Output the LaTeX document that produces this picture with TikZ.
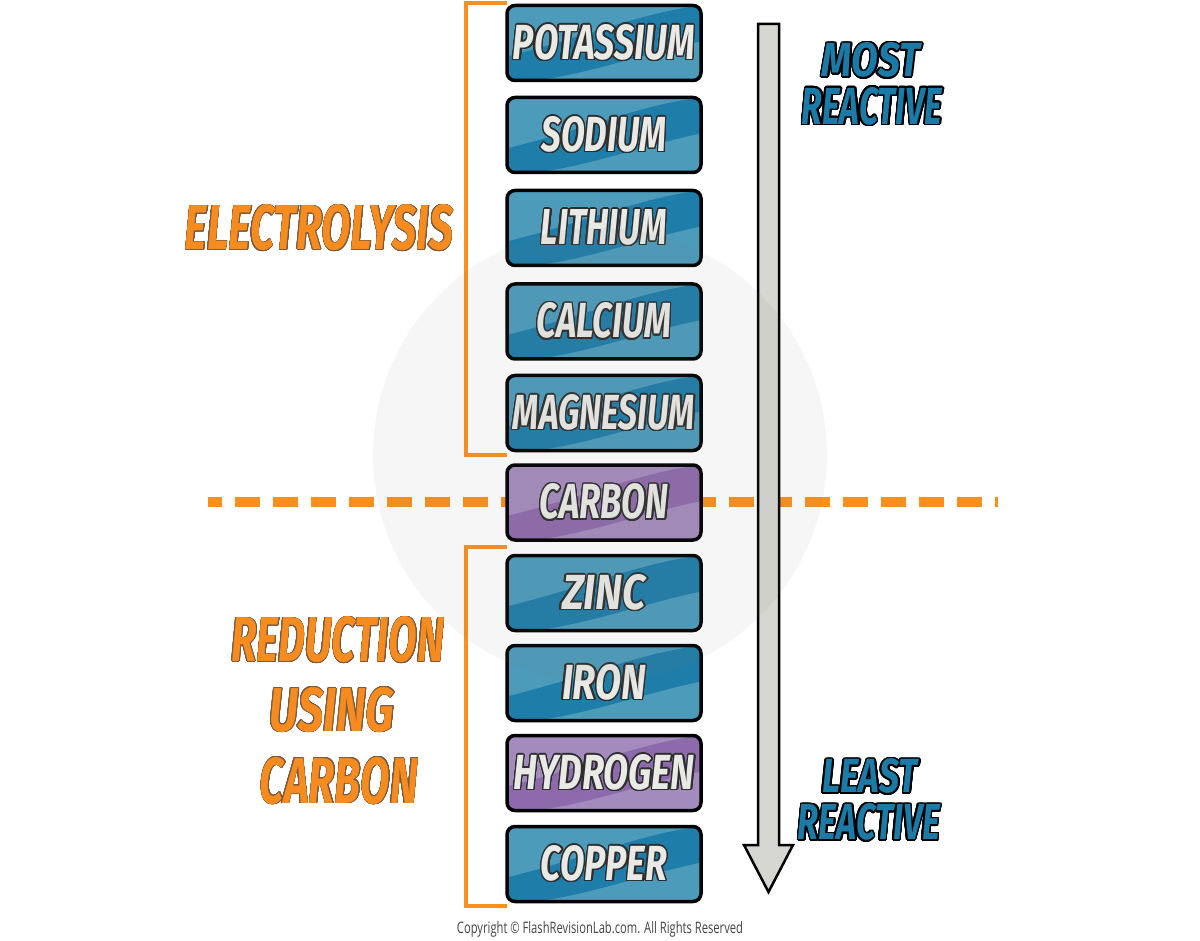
\documentclass[tikz,border=0pt]{standalone}
\usepackage{fontspec}
\setmainfont{Fira Sans}
\newfontfamily\copyfont{Open Sans}
\usepackage{graphicx}
\usepackage{contour}
\contournumber{24}
\definecolor{boxblue}{HTML}{4C9BBB}
\definecolor{bandblue}{HTML}{1F7DA9}
\definecolor{boxpurple}{HTML}{A48BBD}
\definecolor{bandpurple}{HTML}{8D6AAB}
\definecolor{txtwhite}{HTML}{E9E9E6}
\definecolor{txtdark}{HTML}{2E2E2E}
\definecolor{orangec}{HTML}{F68B1F}
\definecolor{orangeline}{HTML}{F7901E}
\definecolor{orangeedge}{HTML}{7A5A40}
\definecolor{bluetxt}{HTML}{1C7AA6}
\definecolor{arrowgray}{HTML}{D6D7D2}
\definecolor{copygray}{HTML}{444444}
\newcommand\boxlbl[2]{\textcolor{txtwhite}{\contourlength{1.4pt}\contour{txtdark}{\resizebox{#1pt}{35pt}{\bfseries\itshape #2}}}}
\newcommand\bluelbl[3]{\textcolor{bluetxt}{\contourlength{1.6pt}\contour{black}{\resizebox{#1pt}{#2pt}{\bfseries\itshape #3}}}}
\newcommand\orangelbl[3]{\textcolor{orangec}{\contourlength{0.6pt}\contour{orangeedge}{\resizebox{#1pt}{#2pt}{\bfseries\itshape #3}}}}
\tikzset{
  elembox/.style 2 args={draw=black, line width=3.5pt, rounded corners=8pt, fill=#1,
    minimum width=194pt, minimum height=75pt, inner sep=0pt,
    path picture={\fill[#2, rounded corners=0pt]
      ([shift={(0pt,24pt)}]path picture bounding box.south west)
      .. controls ([shift={(80pt,44pt)}]path picture bounding box.south west)
      and ([shift={(135pt,68pt)}]path picture bounding box.south west)
      .. (path picture bounding box.north east)
      -- ([shift={(0pt,-36pt)}]path picture bounding box.north east)
      .. controls ([shift={(140pt,28pt)}]path picture bounding box.south west)
      and ([shift={(80pt,6pt)}]path picture bounding box.south west)
      .. ([shift={(28pt,0pt)}]path picture bounding box.south west)
      -- (path picture bounding box.south west) -- cycle;}},
  blueelem/.style={elembox={boxblue}{bandblue}},
  purpleelem/.style={elembox={boxpurple}{bandpurple}},
  bracket/.style={draw=orangeline, line width=4pt},
  plain/.style={inner sep=0pt, outer sep=0pt},
}
\begin{document}
\begin{tikzpicture}[x=1pt, y=-1pt]
\useasboundingbox (0,0) rectangle (1200,941);
\fill[white] (0,0) rectangle (1200,941);

% dashed divider
\draw[orangeline, line width=10pt, dash pattern=on 25pt off 13pt, dash phase=11pt] (208,502) -- (998,502);

% brackets
\draw[bracket] (507,3) -- (466,3) -- (466,455) -- (507,455);
\draw[bracket] (507,547) -- (466,547) -- (466,906) -- (507,906);

% element boxes
\node[blueelem] (potassium) at (604,43) {\boxlbl{182}{POTASSIUM}};
\node[blueelem] (sodium) at (604,135) {\boxlbl{125}{SODIUM}};
\node[blueelem] (lithium) at (604,228) {\boxlbl{126}{LITHIUM}};
\node[blueelem] (calcium) at (604,321.5) {\boxlbl{135}{CALCIUM}};
\node[blueelem] (magnesium) at (604,413) {\boxlbl{182}{MAGNESIUM}};
\node[purpleelem] (carbon) at (604,502.5) {\boxlbl{129}{CARBON}};
\node[blueelem] (zinc) at (604,593) {\boxlbl{84}{ZINC}};
\node[blueelem] (iron) at (604,683) {\boxlbl{84}{IRON}};
\node[purpleelem] (hydrogen) at (604,773) {\boxlbl{181}{HYDROGEN}};
\node[blueelem] (copper) at (604,864) {\boxlbl{126}{COPPER}};

% reactivity arrow
\draw[fill=arrowgray, draw=black, line width=2.5pt, line join=miter]
  (758,24) -- (779,24) -- (779,845) -- (793,845) -- (768.5,892) -- (744,845) -- (758,845) -- cycle;

% side labels
\node[plain] (most) at (871,61) {\bluelbl{98}{34}{MOST}};
\node[plain] (mostreactive) at (872,107) {\bluelbl{140}{37}{REACTIVE}};
\node[plain] (least) at (870,777) {\bluelbl{95}{34}{LEAST}};
\node[plain] (leastreactive) at (869,823) {\bluelbl{142}{36}{REACTIVE}};

\node[plain] (electrolysis) at (319,228) {\orangelbl{268}{45}{ELECTROLYSIS}};
\node[plain] (reduction) at (338,640) {\orangelbl{213}{45}{REDUCTION}};
\node[plain] (using) at (332,710) {\orangelbl{125}{44}{USING}};
\node[plain] (carbonlbl) at (339,781) {\orangelbl{158}{46}{CARBON}};

% watermark
\fill[black!50, opacity=0.07] (600,455) circle (227);

% copyright
\node[plain, text=copygray] (copyright) at (600,929) {\resizebox{286pt}{12pt}{\copyfont Copyright \textcopyright{} FlashRevisionLab.com. All Rights Reserved}};
\end{tikzpicture}
\end{document}
